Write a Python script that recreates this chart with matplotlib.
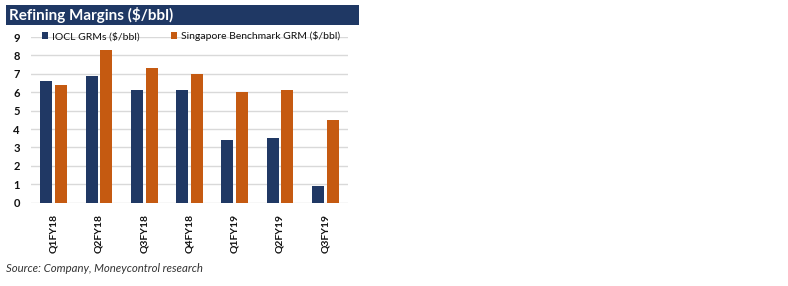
import matplotlib
matplotlib.use('Agg')
import matplotlib.pyplot as plt
from matplotlib.patches import Rectangle
import numpy as np

quarters = ["Q1FY18", "Q2FY18", "Q3FY18", "Q4FY18", "Q1FY19", "Q2FY19", "Q3FY19"]
iocl_grm = [6.6, 6.9, 6.1, 6.1, 3.4, 3.5, 0.9]
singapore_grm = [6.4, 8.3, 7.3, 7.0, 6.0, 6.1, 4.5]

navy = '#203864'
orange = '#C55A11'

plt.rcParams['font.family'] = ['Lato', 'DejaVu Sans']

W, H = 788, 286
fig = plt.figure(figsize=(W / 100, H / 100), dpi=100)
fig.patch.set_facecolor('white')

# title bar
fig.patches.append(Rectangle((6 / W, 1 - 25 / H), 353 / W, 20 / H,
                             transform=fig.transFigure, facecolor='#1F3864',
                             edgecolor='none', zorder=0))
fig.text(9 / W, 1 - 15 / H, "Refining Margins ($/bbl)", color='white',
         fontsize=11, fontweight='bold', va='center', ha='left')

ax = fig.add_axes([31 / W, 1 - 202.7 / H, 317 / W, (202.7 - 37) / H])
x = np.arange(len(quarters))
w = 0.265
ax.bar(x - 0.163, iocl_grm, w, color=navy, label="IOCL GRMs ($/bbl)", zorder=3)
ax.bar(x + 0.163, singapore_grm, w, color=orange,
       label="Singapore Benchmark GRM ($/bbl)", zorder=3)

ax.set_xlim(-0.5, 6.5)
ax.set_ylim(0, 9)
ax.set_yticks(range(0, 10))
ax.yaxis.grid(True, color='#D9D9D9', linewidth=1, zorder=0)
for s in ax.spines.values():
    s.set_visible(False)
ax.tick_params(axis='both', length=0, colors='#111111')
ax.tick_params(axis='y', labelsize=8, pad=8)
for t in ax.get_yticklabels():
    t.set_fontweight('bold')
ax.set_xticks(x)
ax.set_xticklabels(quarters, rotation=90, fontsize=7.5, fontweight='bold')
ax.tick_params(axis='x', pad=8)

leg = ax.legend(loc='upper left', bbox_to_anchor=(0.02, 1.06), ncol=2, frameon=False,
                fontsize=7.5, handlelength=0.6, handleheight=0.6, handletextpad=0.4,
                columnspacing=3.0, borderaxespad=0)
for t in leg.get_texts():
    t.set_color('#111111')

fig.text(6 / W, 1 - 268 / H, "Source: Company, Moneycontrol research",
         fontsize=8.2, style='italic', color='#333333', va='center')

fig.savefig('out.png', dpi=100, facecolor='white')
